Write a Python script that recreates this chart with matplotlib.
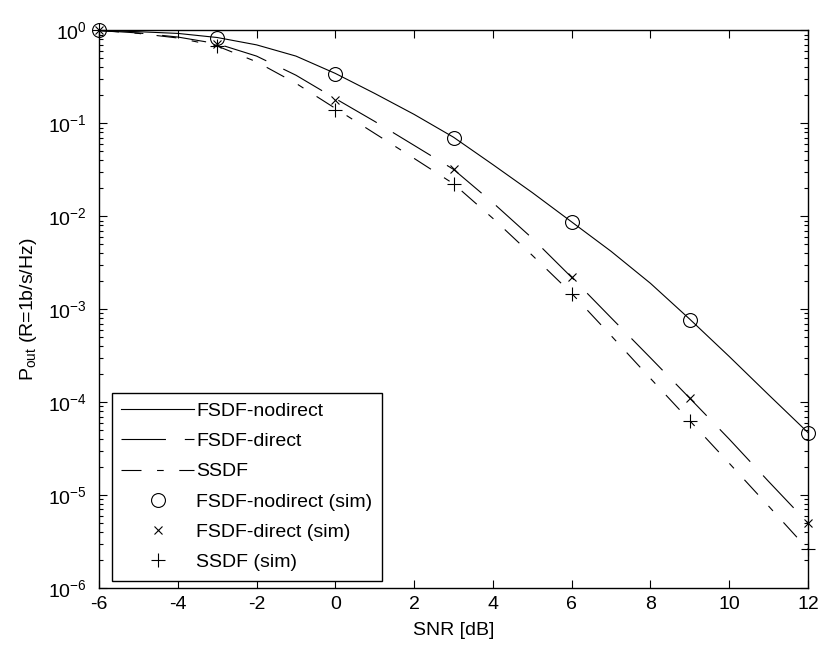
# %% -*- IMPORTS -*-
import numpy as np
import matplotlib
matplotlib.use('Agg')
import matplotlib.pyplot as plt
from matplotlib.ticker import LogLocator, NullFormatter

# %% -*- FONT SETTINGS -*-
plt.rcParams['font.family'] = ['Liberation Sans', 'DejaVu Sans']
plt.rcParams['mathtext.fontset'] = 'custom'
plt.rcParams['mathtext.rm'] = 'Liberation Sans'
plt.rcParams['mathtext.it'] = 'Liberation Sans:italic'
plt.rcParams['axes.unicode_minus'] = False
plt.rcParams['font.size'] = 14

# %% -*- DATA -*-
snr_theory = [-6, -5, -4, -3, -2, -1, 0, 1, 2, 3, 4, 5, 6, 7, 8, 9, 10, 11, 12]

fsdf_nodirect = [1.0, 0.97, 0.93, 0.84, 0.70, 0.53, 0.345, 0.21, 0.125, 0.071,
                 0.036, 0.018, 0.0087, 0.0042, 0.0019, 7.8e-4, 3.1e-4,
                 1.2e-4, 4.7e-5]
fsdf_direct = [1.0, 0.94, 0.85, 0.72, 0.53, 0.33, 0.185, 0.105, 0.058, 0.032,
               0.014, 0.0058, 0.0022, 8.1e-4, 3.0e-4, 1.1e-4, 4.0e-5,
               1.4e-5, 5.0e-6]
ssdf = [1.0, 0.93, 0.83, 0.68, 0.46, 0.27, 0.145, 0.078, 0.042, 0.0224,
        0.0095, 0.0038, 0.00148, 5.2e-4, 1.8e-4, 6.3e-5, 2.2e-5, 7.6e-6,
        2.6e-6]

snr_sim = [-6, -3, 0, 3, 6, 9, 12]
fsdf_nodirect_sim = [1.0, 0.83, 0.34, 0.07, 0.0086, 7.6e-4, 4.7e-5]
fsdf_direct_sim = [1.0, 0.72, 0.18, 0.032, 0.0022, 1.1e-4, 5.0e-6]
ssdf_sim = [1.0, 0.68, 0.14, 0.0224, 0.00147, 6.3e-5, 2.6e-6]

x_ticks = [-6, -4, -2, 0, 2, 4, 6, 8, 10, 12]
y_ticks = [1e-6, 1e-5, 1e-4, 1e-3, 1e-2, 1e-1, 1e0]

# %% -*- PLOT -*-
fig = plt.figure(figsize=(8.23, 6.47), dpi=100)
ax = fig.add_axes([0.1203, 0.0912, 0.8615, 0.8617])

lw = 0.8
ax.plot(snr_theory, fsdf_nodirect, color='black', linewidth=lw,
        label='FSDF-nodirect')
line_direct, = ax.plot(snr_theory, fsdf_direct, color='black', linewidth=lw,
                       label='FSDF-direct')
line_direct.set_dashes([40, 17])
line_ssdf, = ax.plot(snr_theory, ssdf, color='black', linewidth=lw,
                     label='SSDF')
line_ssdf.set_dashes([18, 14, 6, 14])

# simulation markers, not clipped at the axes edge
ax.plot(snr_sim, fsdf_nodirect_sim, linestyle='none', marker='o',
        markersize=10, markerfacecolor='none', markeredgecolor='black',
        markeredgewidth=lw, label='FSDF-nodirect (sim)', clip_on=False)
ax.plot(snr_sim, fsdf_direct_sim, linestyle='none', marker='x',
        markersize=6, color='black', markeredgewidth=lw,
        label='FSDF-direct (sim)', clip_on=False)
ax.plot(snr_sim, ssdf_sim, linestyle='none', marker='+',
        markersize=10, color='black', markeredgewidth=lw,
        label='SSDF (sim)', clip_on=False)

# axes settings
ax.set_yscale('log')
ax.set_xlim(-6, 12)
ax.set_ylim(1e-6, 1)
ax.set_xticks(x_ticks)
ax.set_yticks(y_ticks)
ax.yaxis.set_minor_locator(LogLocator(base=10, subs=np.arange(2, 10),
                                      numticks=20))
ax.yaxis.set_minor_formatter(NullFormatter())
ax.tick_params(which='both', direction='in', top=True, right=True,
               labelsize=14, width=0.8)
ax.tick_params(which='major', length=6)
ax.tick_params(which='minor', length=3)
ax.tick_params(axis='y', which='major', pad=9)
ax.tick_params(axis='x', which='major', pad=6)
for spine in ax.spines.values():
    spine.set_linewidth(1.0)

ax.set_xlabel('SNR [dB]', fontsize=14, labelpad=6)
ax.set_ylabel(r'P$_{\mathrm{out}}$ (R=1b/s/Hz)', fontsize=14, labelpad=6)

leg = ax.legend(loc='lower left', bbox_to_anchor=(0.018, 0.0126),
                borderaxespad=0, fancybox=False, framealpha=1,
                edgecolor='black', fontsize=14, handlelength=3.75,
                handletextpad=0.1, labelspacing=0.65, borderpad=0.5)
leg.get_frame().set_linewidth(1.0)

plt.savefig('out.png', dpi=100, facecolor='white')
